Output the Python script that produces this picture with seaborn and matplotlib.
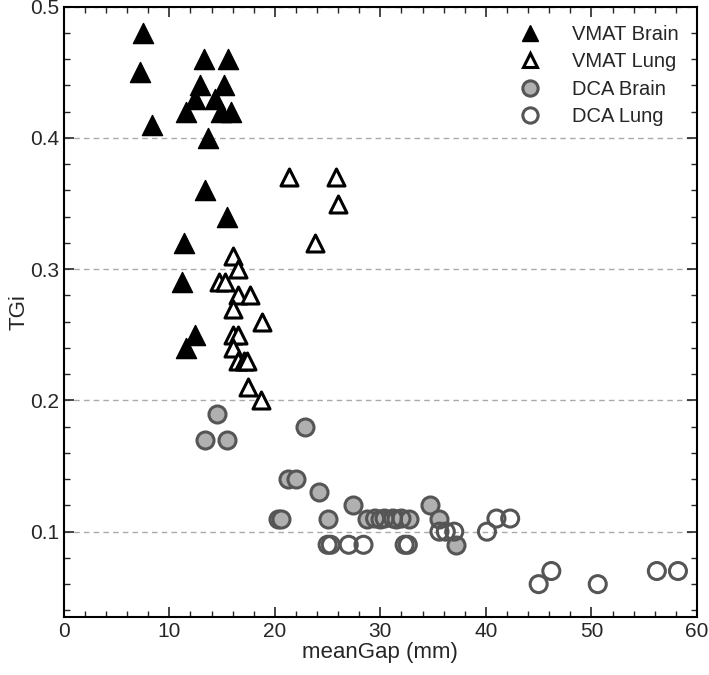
import matplotlib
matplotlib.use("Agg")
import matplotlib.pyplot as plt
import numpy as np
import pandas as pd
import seaborn as sns
from matplotlib.ticker import MultipleLocator
from matplotlib.lines import Line2D

# values
vmat_brain_x = [7.5, 7.2, 8.4, 13.3, 15.6, 12.9, 15.2, 12.4, 14.3, 11.6, 14.9, 15.8,
                13.7, 13.4, 15.5, 11.4, 11.2, 12.4, 11.6]
vmat_brain_y = [0.48, 0.45, 0.41, 0.46, 0.46, 0.44, 0.44, 0.43, 0.43, 0.42, 0.42, 0.42,
                0.40, 0.36, 0.34, 0.32, 0.29, 0.25, 0.24]

vmat_lung_x = [21.3, 25.8, 26.0, 23.8, 16.0, 16.5, 14.7, 15.3, 16.5, 17.6, 16.0, 18.8,
               16.0, 16.5, 16.0, 16.5, 17.1, 17.4, 17.5, 18.7]
vmat_lung_y = [0.37, 0.37, 0.35, 0.32, 0.31, 0.30, 0.29, 0.29, 0.28, 0.28, 0.27, 0.26,
               0.25, 0.25, 0.24, 0.23, 0.23, 0.23, 0.21, 0.20]

dca_brain_x = [14.5, 13.4, 15.5, 22.9, 21.2, 22.0, 24.2, 20.3, 20.6, 25.0, 27.4, 28.7,
               30.0, 31.5, 32.7, 34.7, 35.6, 37.2]
dca_brain_y = [0.19, 0.17, 0.17, 0.18, 0.14, 0.14, 0.13, 0.11, 0.11, 0.11, 0.12, 0.11,
               0.11, 0.11, 0.11, 0.12, 0.11, 0.09]

dca_lung_x = [25.0, 25.3, 27.0, 28.4, 32.3, 32.6, 29.5, 30.4, 31.2, 32.0, 35.6, 36.2,
              37.0, 40.1, 41.0, 42.3, 45.0, 46.2, 50.6, 56.2, 58.2]
dca_lung_y = [0.09, 0.09, 0.09, 0.09, 0.09, 0.09, 0.11, 0.11, 0.11, 0.11, 0.10, 0.10,
              0.10, 0.10, 0.11, 0.11, 0.06, 0.07, 0.06, 0.07, 0.07]

sns.set_style("ticks")
plt.rcParams["font.family"] = ["Liberation Sans", "DejaVu Sans"]

fig, ax = plt.subplots(figsize=(7.09, 6.75), dpi=100)
fig.subplots_adjust(left=0.09, right=0.983, top=0.99, bottom=0.086)

ax.yaxis.grid(True, linestyle=(0, (4, 3)), color="#aaaaaa", linewidth=1)
ax.set_axisbelow(True)

grey_fill = "#b0b0b0"
grey_edge = "#555555"
sns.scatterplot(x=dca_brain_x, y=dca_brain_y, ax=ax, marker="o", s=150,
                color=grey_fill, edgecolor=grey_edge, linewidth=2.2, zorder=3)
sns.scatterplot(x=dca_lung_x, y=dca_lung_y, ax=ax, marker="o", s=150,
                facecolor="none", edgecolor=grey_edge, linewidth=2.2, zorder=3)
sns.scatterplot(x=vmat_brain_x, y=vmat_brain_y, ax=ax, marker="^", s=210,
                color="black", edgecolor="black", linewidth=1, zorder=4)
sns.scatterplot(x=vmat_lung_x, y=vmat_lung_y, ax=ax, marker="^", s=150,
                facecolor="white", edgecolor="black", linewidth=2.2, zorder=4)

ax.set_xlim(0, 60)
ax.set_ylim(0.035, 0.5)
ax.xaxis.set_major_locator(MultipleLocator(10))
ax.xaxis.set_minor_locator(MultipleLocator(2))
ax.yaxis.set_major_locator(MultipleLocator(0.1))
ax.yaxis.set_minor_locator(MultipleLocator(0.02))
ax.tick_params(which="both", direction="in", top=True, right=True, labelsize=15)
ax.tick_params(which="major", length=7, width=1.2)
ax.tick_params(which="minor", length=4, width=1)
for sp in ax.spines.values():
    sp.set_linewidth(1.5)
    sp.set_color("black")

ax.set_xlabel("meanGap (mm)", fontsize=16, labelpad=1)
ax.set_ylabel("TGi", fontsize=16, labelpad=0)

handles = [
    Line2D([], [], ls="", marker="^", ms=12, mfc="black", mec="black"),
    Line2D([], [], ls="", marker="^", ms=10, mfc="white", mec="black", mew=2.2),
    Line2D([], [], ls="", marker="o", ms=11, mfc=grey_fill, mec=grey_edge, mew=2.2),
    Line2D([], [], ls="", marker="o", ms=11, mfc="white", mec=grey_edge, mew=2.2),
]
labels = ["VMAT Brain", "VMAT Lung", "DCA Brain", "DCA Lung"]
ax.legend(handles, labels, loc="upper right", frameon=False, fontsize=14.5,
          handletextpad=1.1, labelspacing=0.42, borderaxespad=0.5)

fig.savefig("out.png", dpi=100)
